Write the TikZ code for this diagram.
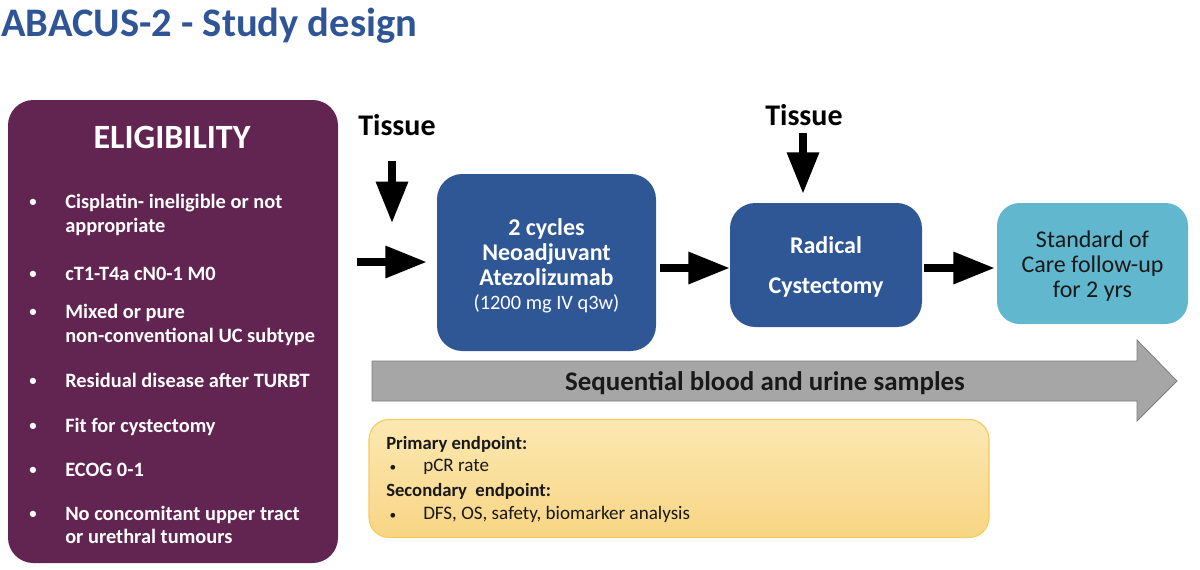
\documentclass[tikz,border=0pt]{standalone}
\usepackage{fontspec}
\setmainfont{Carlito}
\usetikzlibrary{arrows.meta,calc}
\definecolor{titleblue}{RGB}{47,85,151}
\definecolor{purp}{RGB}{98,36,80}
\definecolor{boxblue}{RGB}{47,87,150}
\definecolor{skyc}{RGB}{96,183,206}
\definecolor{grayfill}{RGB}{166,166,166}
\definecolor{grayline}{RGB}{125,125,125}
\definecolor{ylwtop}{RGB}{252,232,178}
\definecolor{ylwbot}{RGB}{248,213,132}
\definecolor{ylwline}{RGB}{246,202,92}
\definecolor{darktext}{RGB}{25,25,25}
\tikzset{
  barrow/.style={draw=black, line width=5.5pt, -{Triangle[length=31pt,width=23pt]}},
  purpbox/.style={fill=purp, draw=none, rounded corners=19pt, inner sep=0pt},
  bluebox/.style={fill=boxblue, draw=none, rounded corners=19pt, inner sep=0pt},
  skybox/.style={fill=skyc, draw=none, rounded corners=17pt, inner sep=0pt},
  boxtext/.style={inner sep=0pt, align=center},
  item/.style={anchor=base west, inner sep=0pt, text=white, font=\fontsize{15.3}{18}\selectfont\bfseries},
  bul/.style={anchor=base, inner sep=0pt, text=white, font=\fontsize{11}{18}\selectfont\bfseries},
  tissue/.style={anchor=base west, inner sep=0pt, font=\fontsize{22.5}{24}\selectfont\bfseries},
  ept/.style={anchor=base west, inner sep=0pt, text=darktext},
}
\begin{document}
\begin{tikzpicture}[x=0.75pt,y=-0.75pt]
\useasboundingbox (0,0) rectangle (1200,569);
% title
\node[anchor=base west, inner sep=0pt, text=titleblue, font=\fontsize{30.4}{34}\selectfont\bfseries] (title) at (1,36) {ABACUS-2 - Study design};
% eligibility box
\node[purpbox, minimum width=247.5pt, minimum height=347.25pt] (elig) at (173,331.5) {};
\node[anchor=base, inner sep=0pt, text=white, font=\fontsize{25.5}{28}\selectfont\bfseries] (eligh) at (172,148) {ELIGIBILITY};
\foreach \y/\t [count=\i] in {208/{Cisplatin- ineligible or not}, 280/{cT1-T4a cN0-1 M0}, 318/{Mixed or pure}, 387/{Residual disease after TURBT}, 432/{Fit for cystectomy}, 476/{ECOG 0-1}, 520/{No concomitant upper tract}}{
  \node[bul] (b\i) at (33,\y-2) {\textbullet};
  \node[item] (it\i) at (65,\y) {\t};
}
\node[item] (it1b) at (65,232) {appropriate};
\node[item] (it3b) at (65,342) {non-conventional UC subtype};
\node[item] (it7b) at (65,543) {or urethral tumours};
% tissue labels
\node[tissue] (tis1) at (358,135) {Tissue};
\node[tissue] (tis2) at (765,125) {Tissue};
% boxes
\node[bluebox, minimum width=164.25pt, minimum height=132.75pt] (box1) at (546.5,262.5) {};
\node[boxtext, text=white, font=\fontsize{18}{18.75}\selectfont\bfseries] (box1t) at ($(box1.center)+(0,3.5)$)
  {2 cycles\\Neoadjuvant\\Atezolizumab\\[-1pt]{\fontsize{15.3}{18.75}\selectfont\mdseries (1200 mg IV q3w)}};
\node[bluebox, minimum width=144pt, minimum height=93pt] (box2) at (826,265) {};
\node[boxtext, text=white, font=\fontsize{18}{30}\selectfont\bfseries] (box2t) at ($(box2.center)+(0,1.5)$)
  {Radical\\Cystectomy};
\node[skybox, minimum width=143.25pt, minimum height=90.75pt] (box3) at (1092.5,263.5) {};
\node[boxtext, text=darktext, font=\fontsize{18}{18.75}\selectfont] (box3t) at ($(box3.center)+(0,3)$)
  {Standard of\\Care follow-up\\for 2 yrs};
% arrows
\coordinate (d1s) at (392,161);
\coordinate (d1e) at (392,223);
\coordinate (h1s) at (357,262);
\draw[barrow] (d1s) -- (d1e);
\draw[barrow] (h1s) -- ($(box1.west)+(-10,-0.5)$);
\draw[barrow] ($(box1.east)+(4,5.5)$) -- ($(box2.west)+(0,3)$);
\draw[barrow] ($(box2.east)+(2,3)$) -- ($(box3.west)+(-2,4.5)$);
\coordinate (d2s) at (803,133);
\draw[barrow] (d2s) -- ($(box2.north)+(-23,-9)$);
% gray arrow
\draw[fill=grayfill, draw=grayline, line width=0.6pt, line join=miter]
  (372,361) -- (1137,361) -- (1137,340) -- (1177,381) -- (1137,421) -- (1137,401) -- (372,401) -- cycle;
\node[inner sep=0pt, anchor=base, text=darktext, font=\fontsize{20.2}{22}\selectfont\bfseries] (seq) at (765,390) {Sequential blood and urine samples};
% endpoints box
\node[draw=ylwline, line width=0.8pt, top color=ylwtop, bottom color=ylwbot, rounded corners=15pt, minimum width=465pt, minimum height=88.5pt, inner sep=0pt] (endp) at (679,478.5) {};
\node[ept, font=\fontsize{14}{15}\selectfont\bfseries] (pe) at (386,449) {Primary endpoint:};
\node[ept, anchor=base, font=\fontsize{10}{14}\selectfont] (pb1) at (393,471) {\textbullet};
\node[ept, font=\fontsize{14.3}{14}\selectfont] (pt1) at (423,471) {pCR rate};
\node[ept, font=\fontsize{14}{15}\selectfont\bfseries] (se) at (386,496) {Secondary\ \ endpoint:};
\node[ept, anchor=base, font=\fontsize{10}{14}\selectfont] (pb2) at (393,519) {\textbullet};
\node[ept, font=\fontsize{14.3}{14}\selectfont] (pt2) at (423,519) {DFS, OS, safety, biomarker analysis};
\end{tikzpicture}
\end{document}
